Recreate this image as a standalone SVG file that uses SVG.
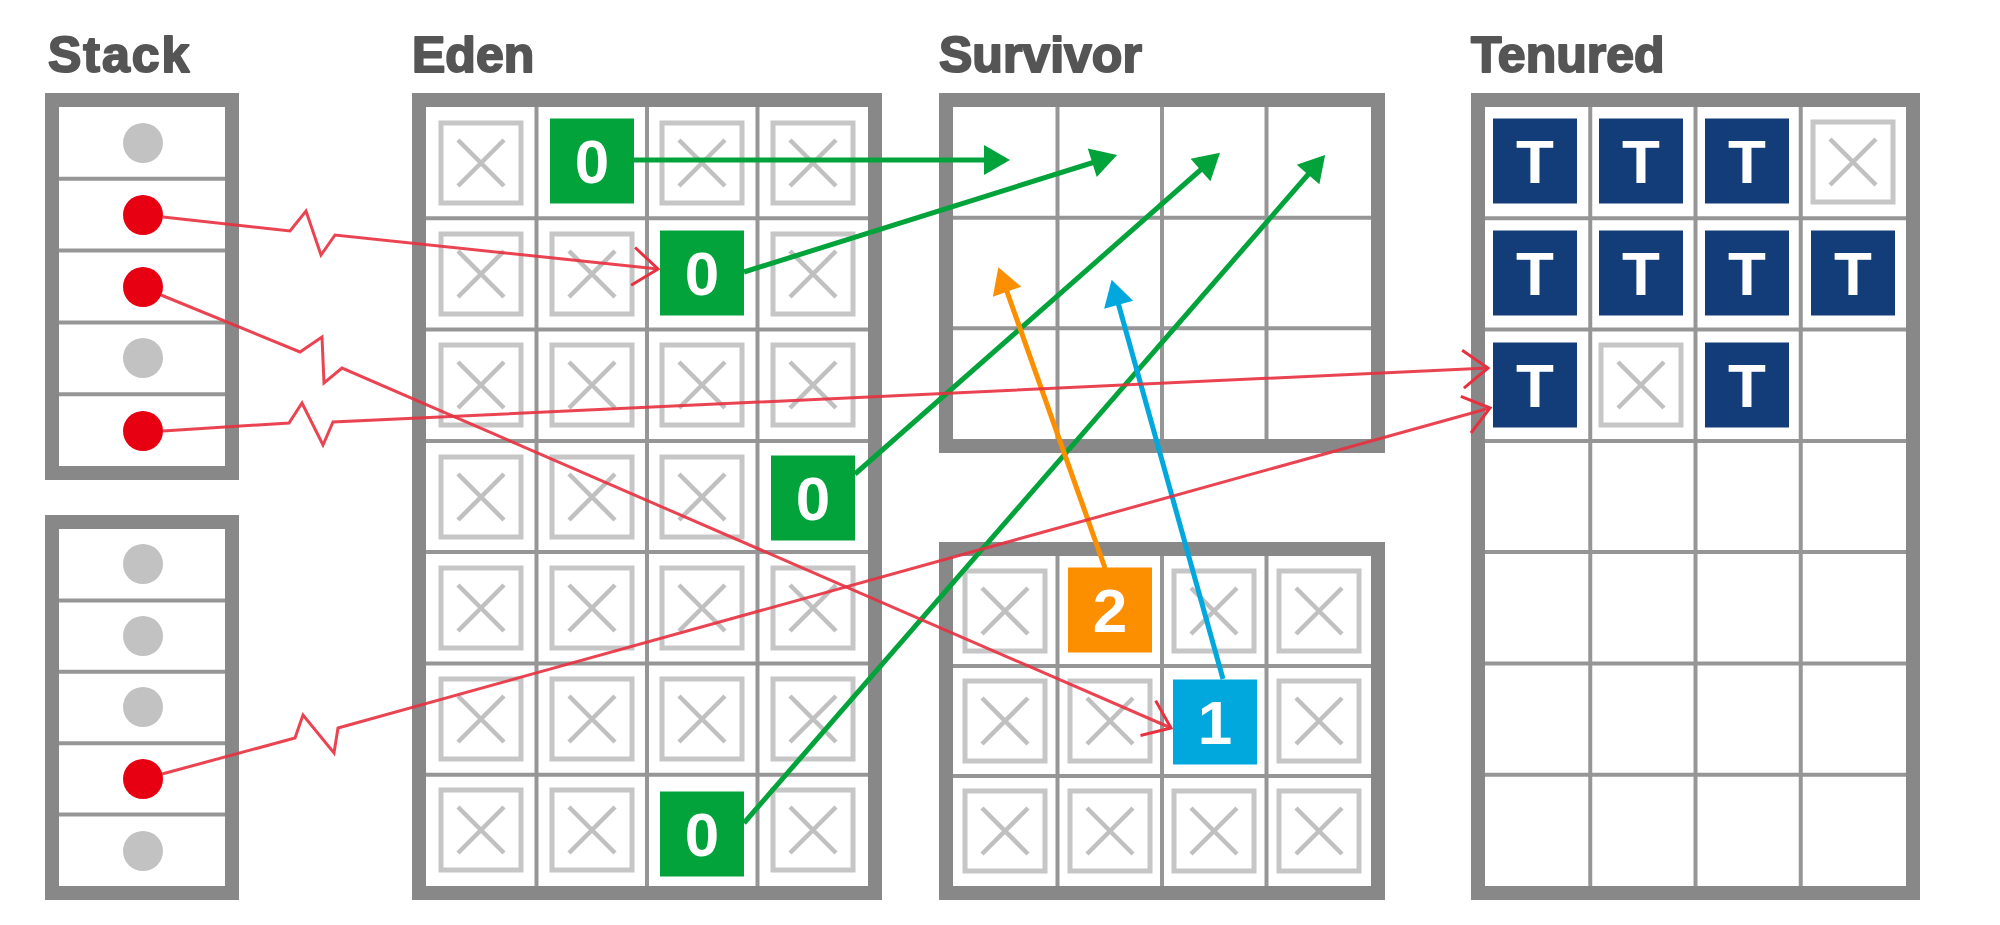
<svg xmlns="http://www.w3.org/2000/svg" xmlns:xlink="http://www.w3.org/1999/xlink" width="2000" height="925" viewBox="0 0 2000 925">
<style>
.lbl{font-family:"Liberation Sans",Arial,sans-serif;font-weight:bold;font-size:50px;fill:#555;stroke:#555;stroke-width:2px;stroke-linejoin:round}
.frame{fill:none;stroke:#888;stroke-width:14}
.bg{fill:#fff}
.grid{stroke:#969696;stroke-width:4;fill:none}
.xb{fill:#fff;stroke:#c6c6c6;stroke-width:5}
.xl{stroke:#c0c0c0;stroke-width:4.5;fill:none}
.val{font-family:"Liberation Sans",Arial,sans-serif;font-weight:bold;font-size:62px;fill:#fff;text-anchor:middle}
.g0{fill:#02a33b}
.t{fill:#123d78}
.or{fill:#fb8f00}
.bl{fill:#00a8de}
.ref{fill:none;stroke:#e8303f;stroke-opacity:0.9;stroke-width:3;stroke-linejoin:miter}
.gr{fill:none;stroke:#02a33b;stroke-width:5}
.oa{fill:none;stroke:#fb8f00;stroke-width:5}
.ba{fill:none;stroke:#00a8de;stroke-width:5}
.live{fill:#e60012}
.dead{fill:#c2c2c2}
</style>
<defs>
<g id="xbox"><rect x="-40" y="-40" width="80" height="80" class="xb"/><path d="M-23,-23 L23,23 M23,-23 L-23,23" class="xl"/></g>
<rect id="obj" x="-42" y="-42.5" width="84" height="85"/>
<marker id="ah-red" markerUnits="userSpaceOnUse" viewBox="-40 -30 50 60" markerWidth="50" markerHeight="60" refX="0" refY="0" orient="auto" overflow="visible"><path d="M-25,-19 L0,0 L-25,19" fill="none" stroke="#e8303f" stroke-width="3"/></marker>
<marker id="ah-green" markerUnits="userSpaceOnUse" viewBox="-10 -20 40 40" markerWidth="40" markerHeight="40" refX="0" refY="0" orient="auto" overflow="visible"><path d="M-6,-15 L20,0 L-6,15 Z" fill="#02a33b"/></marker>
<marker id="ah-orange" markerUnits="userSpaceOnUse" viewBox="-10 -20 40 40" markerWidth="40" markerHeight="40" refX="0" refY="0" orient="auto" overflow="visible"><path d="M-6,-15 L20,0 L-6,15 Z" fill="#fb8f00"/></marker>
<marker id="ah-blue" markerUnits="userSpaceOnUse" viewBox="-10 -20 40 40" markerWidth="40" markerHeight="40" refX="0" refY="0" orient="auto" overflow="visible"><path d="M-6,-15 L20,0 L-6,15 Z" fill="#00a8de"/></marker>
</defs>
<rect width="2000" height="925" fill="#fff"/>

<g id="labels">
<text class="lbl" x="48" y="72" letter-spacing="2">Stack</text>
<text class="lbl" x="412" y="72">Eden</text>
<text class="lbl" x="939" y="72">Survivor</text>
<text class="lbl" x="1471" y="72">Tenured</text>
</g>

<g id="stack-upper">
<rect class="bg" x="52" y="100" width="180" height="373"/>
<path class="grid" d="M59,178.8 H225 M59,250.6 H225 M59,322.4 H225 M59,394.2 H225"/>
<circle class="dead" cx="143" cy="143" r="20"/>
<circle class="live" cx="143" cy="215" r="20"/>
<circle class="live" cx="143" cy="287" r="20"/>
<circle class="dead" cx="143" cy="358" r="20"/>
<circle class="live" cx="143" cy="431" r="20"/>
<rect class="frame" x="52" y="100" width="180" height="373"/>
</g>

<g id="stack-lower">
<rect class="bg" x="52" y="522" width="180" height="371"/>
<path class="grid" d="M59,600.4 H225 M59,671.8 H225 M59,743.2 H225 M59,814.6 H225"/>
<circle class="dead" cx="143" cy="564" r="20"/>
<circle class="dead" cx="143" cy="636" r="20"/>
<circle class="dead" cx="143" cy="707" r="20"/>
<circle class="live" cx="143" cy="779" r="20"/>
<circle class="dead" cx="143" cy="851" r="20"/>
<rect class="frame" x="52" y="522" width="180" height="371"/>
</g>

<g id="eden">
<rect class="bg" x="419" y="100" width="456" height="793"/>
<path class="grid" d="M536.5,107 V886 M647,107 V886 M757.5,107 V886 M426,218.3 H868 M426,329.6 H868 M426,440.9 H868 M426,552.1 H868 M426,663.4 H868 M426,774.7 H868"/>
<use xlink:href="#xbox" x="481" y="163"/><use xlink:href="#xbox" x="702" y="163"/><use xlink:href="#xbox" x="813" y="163"/>
<use xlink:href="#xbox" x="481" y="274"/><use xlink:href="#xbox" x="592" y="274"/><use xlink:href="#xbox" x="813" y="274"/>
<use xlink:href="#xbox" x="481" y="385"/><use xlink:href="#xbox" x="592" y="385"/><use xlink:href="#xbox" x="702" y="385"/><use xlink:href="#xbox" x="813" y="385"/>
<use xlink:href="#xbox" x="481" y="497"/><use xlink:href="#xbox" x="592" y="497"/><use xlink:href="#xbox" x="702" y="497"/>
<use xlink:href="#xbox" x="481" y="608"/><use xlink:href="#xbox" x="592" y="608"/><use xlink:href="#xbox" x="702" y="608"/><use xlink:href="#xbox" x="813" y="608"/>
<use xlink:href="#xbox" x="481" y="719"/><use xlink:href="#xbox" x="592" y="719"/><use xlink:href="#xbox" x="702" y="719"/><use xlink:href="#xbox" x="813" y="719"/>
<use xlink:href="#xbox" x="481" y="830"/><use xlink:href="#xbox" x="592" y="830"/><use xlink:href="#xbox" x="813" y="830"/>
<rect class="frame" x="419" y="100" width="456" height="793"/>
</g>
<g id="eden-obj-1"><use xlink:href="#obj" class="g0" x="592" y="161"/><text class="val" x="592" y="183">0</text></g>
<g id="eden-obj-2"><use xlink:href="#obj" class="g0" x="702" y="273"/><text class="val" x="702" y="295">0</text></g>
<g id="eden-obj-3"><use xlink:href="#obj" class="g0" x="813" y="498"/><text class="val" x="813" y="520">0</text></g>
<g id="eden-obj-4"><use xlink:href="#obj" class="g0" x="702" y="834"/><text class="val" x="702" y="856">0</text></g>

<g id="survivor-to">
<rect class="bg" x="946" y="100" width="432" height="346"/>
<path class="grid" d="M1057.5,107 V439 M1162,107 V439 M1266.5,107 V439 M953,217.7 H1371 M953,328.3 H1371"/>
<rect class="frame" x="946" y="100" width="432" height="346"/>
</g>

<g id="survivor-from">
<rect class="bg" x="946" y="549" width="432" height="344"/>
<path class="grid" d="M1057.5,556 V886 M1162,556 V886 M1266.5,556 V886 M953,666 H1371 M953,776 H1371"/>
<use xlink:href="#xbox" x="1005" y="611"/><use xlink:href="#xbox" x="1214" y="611"/><use xlink:href="#xbox" x="1319" y="611"/>
<use xlink:href="#xbox" x="1005" y="721"/><use xlink:href="#xbox" x="1110" y="721"/><use xlink:href="#xbox" x="1319" y="721"/>
<use xlink:href="#xbox" x="1005" y="831"/><use xlink:href="#xbox" x="1110" y="831"/><use xlink:href="#xbox" x="1214" y="831"/><use xlink:href="#xbox" x="1319" y="831"/>
<rect class="frame" x="946" y="549" width="432" height="344"/>
</g>
<g id="survivor-obj-2"><use xlink:href="#obj" class="or" x="1110" y="610"/><text class="val" x="1110" y="632">2</text></g>
<g id="survivor-obj-1"><use xlink:href="#obj" class="bl" x="1215" y="722"/><text class="val" x="1215" y="744">1</text></g>

<g id="tenured">
<rect class="bg" x="1478" y="100" width="435" height="793"/>
<path class="grid" d="M1590.25,107 V886 M1695.5,107 V886 M1800.75,107 V886 M1485,218.3 H1906 M1485,329.6 H1906 M1485,440.9 H1906 M1485,552.1 H1906 M1485,663.4 H1906 M1485,774.7 H1906"/>
<use xlink:href="#xbox" x="1853" y="162"/>
<use xlink:href="#xbox" x="1641" y="385"/>
<rect class="frame" x="1478" y="100" width="435" height="793"/>
</g>
<g id="tenured-objs">
<use xlink:href="#obj" class="t" x="1535" y="161"/><text class="val" x="1535" y="183">T</text>
<use xlink:href="#obj" class="t" x="1641" y="161"/><text class="val" x="1641" y="183">T</text>
<use xlink:href="#obj" class="t" x="1747" y="161"/><text class="val" x="1747" y="183">T</text>
<use xlink:href="#obj" class="t" x="1535" y="273"/><text class="val" x="1535" y="295">T</text>
<use xlink:href="#obj" class="t" x="1641" y="273"/><text class="val" x="1641" y="295">T</text>
<use xlink:href="#obj" class="t" x="1747" y="273"/><text class="val" x="1747" y="295">T</text>
<use xlink:href="#obj" class="t" x="1853" y="273"/><text class="val" x="1853" y="295">T</text>
<use xlink:href="#obj" class="t" x="1535" y="385"/><text class="val" x="1535" y="407">T</text>
<use xlink:href="#obj" class="t" x="1747" y="385"/><text class="val" x="1747" y="407">T</text>
</g>

<g id="connectors">
<path class="gr" marker-end="url(#ah-green)" d="M634,160 L990,160"/>
<path class="gr" marker-end="url(#ah-green)" d="M744,272 L1098,161"/>
<path class="gr" marker-end="url(#ah-green)" d="M855,474 L1205,166"/>
<path class="gr" marker-end="url(#ah-green)" d="M744,823 L1312,170"/>
<path class="oa" marker-end="url(#ah-orange)" d="M1105,568 L1005,286"/>
<path class="ba" marker-end="url(#ah-blue)" d="M1223,679 L1117,299"/>
<path class="ref" marker-end="url(#ah-red)" d="M163,217 L290,231 L306,211 L321,255 L335,235 L658,269"/>
<path class="ref" marker-end="url(#ah-red)" d="M161,295 L300,352 L322,337 L324,383 L342,368 L1171,728"/>
<path class="ref" marker-end="url(#ah-red)" d="M163,431 L289,423 L302,403 L323,445 L333,422 L1488,368"/>
<path class="ref" marker-end="url(#ah-red)" d="M162,774 L295,738 L303,715 L334,753 L338,728 L1490,408"/>
</g>
</svg>
